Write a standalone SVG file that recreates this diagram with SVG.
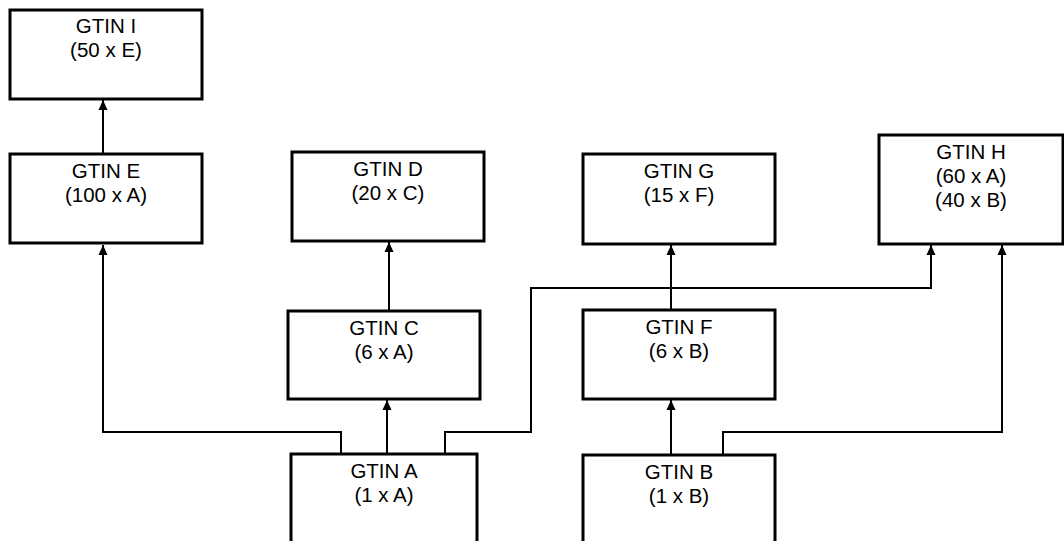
<svg xmlns="http://www.w3.org/2000/svg" width="1064" height="541" viewBox="0 0 1064 541">
<style>
.box{fill:#fff;stroke:#000;stroke-width:3}
.lbl{font-family:"Liberation Sans",Arial,sans-serif;font-size:20.5px;fill:#000;text-anchor:middle}
.con{fill:none;stroke:#000;stroke-width:2}
</style>
<defs>
<marker id="arr" markerUnits="userSpaceOnUse" markerWidth="10" markerHeight="10" viewBox="0 0 10 10" refX="10" refY="5" orient="auto">
<path d="M0,0.5 L10,5 L0,9.5 z" fill="#000"/>
</marker>
</defs>
<rect width="1064" height="541" fill="#fff"/>
<g id="connectors">
<path class="con" d="M103,154 V100" marker-end="url(#arr)"/>
<path class="con" d="M341,454 V432 H103 V245" marker-end="url(#arr)"/>
<path class="con" d="M387,454 V400" marker-end="url(#arr)"/>
<path class="con" d="M389,311 V242" marker-end="url(#arr)"/>
<path class="con" d="M445,454 V432 H531 V288 H931 V245" marker-end="url(#arr)"/>
<path class="con" d="M671,455 V400" marker-end="url(#arr)"/>
<path class="con" d="M671,310 V245" marker-end="url(#arr)"/>
<path class="con" d="M723,455 V432 H1002 V245" marker-end="url(#arr)"/>
</g>
<g id="gtin-i">
<rect class="box" x="10" y="10" width="192" height="89"/>
<text class="lbl" x="106" y="33">GTIN I</text>
<text class="lbl" x="106" y="57">(50 x E)</text>
</g>
<g id="gtin-e">
<rect class="box" x="10" y="154" width="192" height="89"/>
<text class="lbl" x="106" y="178">GTIN E</text>
<text class="lbl" x="106" y="202">(100 x A)</text>
</g>
<g id="gtin-d">
<rect class="box" x="292" y="152" width="192" height="89"/>
<text class="lbl" x="388" y="176">GTIN D</text>
<text class="lbl" x="388" y="200">(20 x C)</text>
</g>
<g id="gtin-g">
<rect class="box" x="583" y="154" width="192" height="90"/>
<text class="lbl" x="679" y="178">GTIN G</text>
<text class="lbl" x="679" y="202">(15 x F)</text>
</g>
<g id="gtin-h">
<rect class="box" x="879" y="135" width="184" height="109"/>
<text class="lbl" x="971" y="159">GTIN H</text>
<text class="lbl" x="971" y="183">(60 x A)</text>
<text class="lbl" x="971" y="207">(40 x B)</text>
</g>
<g id="gtin-c">
<rect class="box" x="288" y="311" width="192" height="88"/>
<text class="lbl" x="384" y="335">GTIN C</text>
<text class="lbl" x="384" y="359">(6 x A)</text>
</g>
<g id="gtin-f">
<rect class="box" x="583" y="310" width="192" height="89"/>
<text class="lbl" x="679" y="334">GTIN F</text>
<text class="lbl" x="679" y="358">(6 x B)</text>
</g>
<g id="gtin-a">
<rect class="box" x="291" y="454" width="186" height="100"/>
<text class="lbl" x="384" y="478">GTIN A</text>
<text class="lbl" x="384" y="502">(1 x A)</text>
</g>
<g id="gtin-b">
<rect class="box" x="583" y="455" width="192" height="100"/>
<text class="lbl" x="679" y="479">GTIN B</text>
<text class="lbl" x="679" y="503">(1 x B)</text>
</g>
</svg>
